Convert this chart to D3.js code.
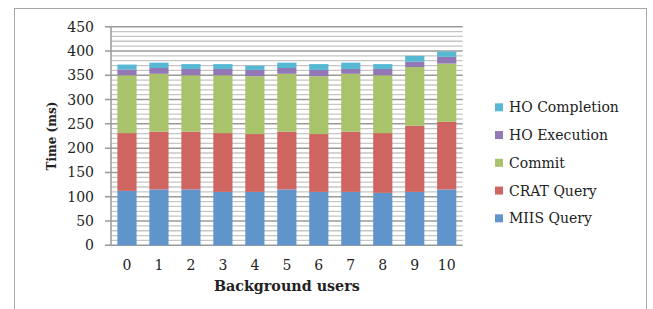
<!DOCTYPE html>
<html>
<head>
<meta charset="utf-8">
<script src="https://cdn.jsdelivr.net/npm/d3@7"></script>
<style>
  body { margin: 0; background: #fff; }
  svg { display: block; }
  text { font-family: 'DejaVu Serif', 'Liberation Serif', serif; fill: #222; }
</style>
</head>
<body>
<svg id="chart" width="653" height="309"></svg>
<script>
'use strict';

// values (ms)
const users = ['0', '1', '2', '3', '4', '5', '6', '7', '8', '9', '10'];
const miisQuery = [112, 115, 115, 110, 110, 115, 110, 110, 108, 110, 115];
const cratQuery = [119, 119, 119, 121, 119, 119, 119, 124, 123, 136, 139];
const commit = [119, 119, 116, 119, 119, 119, 119, 119, 119, 121, 120];
const hoExecution = [12, 12, 13, 13, 13, 12, 13, 10, 13, 11, 14];
const hoCompletion = [10, 11, 10, 10, 9, 11, 12, 13, 10, 12, 11];

const seriesNames = ['MIIS Query', 'CRAT Query', 'Commit', 'HO Execution', 'HO Completion'];
const seriesColors = ['#6095cb', '#cf6560', '#a9c36b', '#9279b5', '#56b8d3'];
const yTicks = [0, 50, 100, 150, 200, 250, 300, 350, 400, 450];

const svg = d3.select('#chart');

// outer frame
svg.append('rect')
  .attr('x', 14.5)
  .attr('y', 8.5)
  .attr('width', 632)
  .attr('height', 320)
  .attr('fill', 'none')
  .attr('stroke', '#a6a6a6')
  .attr('stroke-width', 1);

const plot = { left: 111, right: 462.7, top: 26.7, bottom: 245.3 };

const x = d3.scaleBand()
  .domain(users)
  .range([plot.left, plot.right])
  .paddingInner(0.4)
  .paddingOuter(0.2);

const y = d3.scaleLinear()
  .domain([0, 450])
  .range([plot.bottom, plot.top]);

// minor gridlines every 10
const minor = d3.range(0, 451, 10).filter(v => v % 50 !== 0);
svg.append('g')
  .selectAll('line')
  .data(minor)
  .enter()
  .append('line')
  .attr('x1', plot.left)
  .attr('x2', plot.right)
  .attr('y1', d => y(d))
  .attr('y2', d => y(d))
  .attr('stroke', '#c6c6c6')
  .attr('stroke-width', 1.3);

// major gridlines + tick marks
svg.append('g')
  .selectAll('line')
  .data(yTicks)
  .enter()
  .append('line')
  .attr('x1', plot.left - 6)
  .attr('x2', plot.right)
  .attr('y1', d => y(d))
  .attr('y2', d => y(d))
  .attr('stroke', '#9a9a9a')
  .attr('stroke-width', 1.5);

// stacked bars
const rows = users.map((u, i) => ({
  user: u,
  'MIIS Query': miisQuery[i],
  'CRAT Query': cratQuery[i],
  'Commit': commit[i],
  'HO Execution': hoExecution[i],
  'HO Completion': hoCompletion[i]
}));
const stacked = d3.stack().keys(seriesNames)(rows);

svg.append('g')
  .selectAll('g')
  .data(stacked)
  .enter()
  .append('g')
  .attr('fill', (d, i) => seriesColors[i])
  .selectAll('rect')
  .data(d => d)
  .enter()
  .append('rect')
  .attr('x', d => x(d.data.user))
  .attr('width', x.bandwidth())
  .attr('y', d => y(d[1]))
  .attr('height', d => y(d[0]) - y(d[1]));

// y axis line
svg.append('line')
  .attr('x1', plot.left)
  .attr('x2', plot.left)
  .attr('y1', plot.top)
  .attr('y2', plot.bottom)
  .attr('stroke', '#9a9a9a')
  .attr('stroke-width', 1.5);

// y tick labels
svg.append('g')
  .selectAll('text')
  .data(yTicks)
  .enter()
  .append('text')
  .attr('x', 94)
  .attr('y', d => y(d) + 5)
  .attr('text-anchor', 'end')
  .attr('font-size', 14)
  .text(d => d);

// x tick labels
svg.append('g')
  .selectAll('text')
  .data(users)
  .enter()
  .append('text')
  .attr('x', d => x(d) + x.bandwidth() / 2)
  .attr('y', 270)
  .attr('text-anchor', 'middle')
  .attr('font-size', 14)
  .text(d => d);

// axis titles
svg.append('text')
  .attr('x', (plot.left + plot.right) / 2)
  .attr('y', 291)
  .attr('text-anchor', 'middle')
  .attr('font-size', 14.3)
  .attr('font-weight', 'bold')
  .text('Background users');

svg.append('text')
  .attr('transform', 'translate(56,136) rotate(-90)')
  .attr('text-anchor', 'middle')
  .attr('font-size', 12)
  .attr('font-weight', 'bold')
  .text('Time (ms)');

// legend, top entry is the top of the stack
const legend = svg.append('g')
  .selectAll('g')
  .data(seriesNames.slice().reverse())
  .enter()
  .append('g')
  .attr('transform', (d, i) => `translate(495,${107.3 + i * 27.75})`);

legend.append('rect')
  .attr('x', 0)
  .attr('y', -4)
  .attr('width', 8)
  .attr('height', 8)
  .attr('fill', d => seriesColors[seriesNames.indexOf(d)]);

legend.append('text')
  .attr('x', 14)
  .attr('y', 5)
  .attr('font-size', 14)
  .text(d => d);
</script>
</body>
</html>
